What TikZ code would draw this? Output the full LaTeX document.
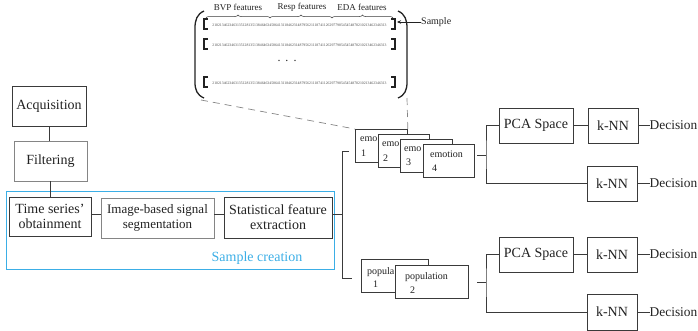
\documentclass[tikz,border=0pt]{standalone}
\usepackage{fontspec}
\setmainfont{Liberation Serif}
\usetikzlibrary{decorations.pathreplacing,arrows.meta}
\definecolor{ink}{HTML}{222222}
\definecolor{linec}{HTML}{3A3A3A}
\definecolor{lightline}{HTML}{858585}
\definecolor{digitc}{HTML}{4A4A4A}
\definecolor{sblue}{HTML}{3BAEE6}
\begin{document}
\begin{tikzpicture}[x=1pt,y=-1pt,
  box/.style={draw=linec,line width=0.8pt,fill=white,inner sep=0pt,align=center,text=ink,font=\fontsize{14}{15}\selectfont},
  lbox/.style={box,draw=lightline},
  ebox/.style={draw=linec,line width=0.8pt,fill=white,inner sep=0pt,anchor=north west},
  etext/.style={inner sep=0pt,anchor=west,text=ink,font=\fontsize{10}{11}\selectfont},
  conn/.style={draw=linec,line width=0.8pt},
  zoomline/.style={draw=lightline,line width=0.7pt,dash pattern=on 7pt off 5pt},
  paren/.style={draw=ink,line width=1.3pt},
  rowbr/.style={draw=ink,line width=1.4pt},
  digits/.style={inner sep=0pt,text=digitc,font=\fontsize{3.8}{4}\selectfont},
  flabel/.style={inner sep=0pt,text=ink,font=\fontsize{9}{10}\selectfont},
  dec/.style={inner sep=0pt,anchor=west,text=ink,font=\fontsize{13.4}{15}\selectfont}]
\useasboundingbox (0,0) rectangle (698,330);

% ---------- left pipeline ----------
\node[box,minimum width=74pt,minimum height=40pt] (acq) at (49,106) {Acquisition};
\node[lbox,minimum width=73pt,minimum height=40pt] (filt) at (50.5,161) {Filtering};
\draw[sblue,line width=0.9pt] (6,191) rectangle (334,269);
\node[box,minimum width=82pt,minimum height=39pt] (ts) at (50,216.5) {Time series'\\obtainment};
\node[lbox,minimum width=113pt,minimum height=40pt,font=\fontsize{13}{15}\selectfont] (img) at (157.5,218) {Image-based signal\\segmentation};
\node[box,minimum width=108pt,minimum height=41pt] (stat) at (278,217.5) {Statistical feature\\extraction};
\node[inner sep=0pt,text=sblue,font=\fontsize{14}{15}\selectfont] (sc) at (257,258) {Sample creation};

\draw[conn] (acq.south) -- (filt.north -| acq.south);
\draw[conn] (filt.south) -- (ts.north -| filt.south);
\draw[conn] (ts.east |- 0,214.5) -- (img.west |- 0,214.5);
\draw[conn] (img.east |- 0,214.5) -- (stat.west |- 0,214.5);

% ---------- branch to emotion / population ----------
\coordinate (bm) at (342,214.5);
\coordinate (bt) at (349,151);
\coordinate (bb) at (352,278);
\draw[conn] (stat.east |- bm) -- (bm);
\draw[conn] (bt) -- (342,151) -- (342,278) -- (bb);

% emotion boxes
\node[ebox,minimum width=52pt,minimum height=33pt] (e1) at (355,129) {};
\node[etext] at (360,139) {emo};
\node[etext] at (361,153) {1};
\node[ebox,minimum width=51pt,minimum height=33pt] (e2) at (378,134) {};
\node[etext] at (382,144) {emo};
\node[etext] at (383,158) {2};
\node[ebox,minimum width=52pt,minimum height=33pt] (e3) at (400,139) {};
\node[etext] at (404,149) {emo};
\node[etext] at (406,162) {3};
\node[ebox,minimum width=51pt,minimum height=33pt] (e4) at (423,144) {};
\node[etext] at (430,154) {emotion};
\node[etext] at (432,168) {4};

% population boxes
\node[ebox,minimum width=67pt,minimum height=33pt] (p1) at (361,259) {};
\node[etext] at (367,272) {popula};
\node[etext] at (373,284) {1};
\node[ebox,minimum width=73pt,minimum height=33pt] (p2) at (395,265) {};
\node[etext] at (405,277) {population};
\node[etext] at (410,290) {2};

% ---------- right groups ----------
\node[box,minimum width=74pt,minimum height=35pt] (pca1) at (536,125.5) {PCA Space};
\node[box,minimum width=50pt,minimum height=35pt] (knn1) at (613,125.5) {k-NN};
\node[box,minimum width=50pt,minimum height=35pt] (knn2) at (612,183.5) {k-NN};
\node[box,minimum width=74pt,minimum height=35pt] (pca2) at (536,254.5) {PCA Space};
\node[box,minimum width=50pt,minimum height=35pt] (knn3) at (612,254.5) {k-NN};
\node[box,minimum width=50pt,minimum height=36pt] (knn4) at (612,312) {k-NN};

\node[dec] (d1) at (649.5,125.5) {Decision};
\node[dec] (d2) at (649.5,183.5) {Decision};
\node[dec] (d3) at (649.5,254.5) {Decision};
\node[dec] (d4) at (649.5,312) {Decision};

\coordinate (u1) at (477,155);
\coordinate (u2) at (486,155);
\draw[conn] (u1) -- (u2);
\draw[conn] (pca1.west) -| (u2) |- (knn2.west);
\draw[conn] (pca1.east) -- (knn1.west);
\draw[conn] (knn1.east) -- (d1.west);
\draw[conn] (knn2.east) -- (d2.west);

\coordinate (l1) at (477,282);
\coordinate (l2) at (486,282);
\draw[conn] (l1) -- (l2);
\draw[conn] (pca2.west) -| (l2) |- (knn4.west);
\draw[conn] (pca2.east) -- (knn3.west);
\draw[conn] (knn3.east) -- (d3.west);
\draw[conn] (knn4.east) -- (d4.west);

% ---------- sample matrix ----------
\draw[paren] (204,11) .. controls (197,14) and (195,20) .. (195,28) -- (195,82) .. controls (195,90) and (197,95) .. (204,98);
\draw[paren] (398,11) .. controls (405,14) and (407,20) .. (407,28) -- (407,82) .. controls (407,90) and (405,95) .. (398,98);

\foreach \yy in {24,44,82}{
  \draw[rowbr] (208,\yy-5) -- (204,\yy-5) -- (204,\yy+5) -- (208,\yy+5);
  \draw[rowbr] (391,\yy-5) -- (395,\yy-5) -- (395,\yy+5) -- (391,\yy+5);
  \node[digits] at (299.5,\yy+1) {21021346234631351281351384646345864131184623148795621118741126297798545454878210213462346313};
}
\node[inner sep=0pt,text=ink,font=\fontsize{12}{12}\selectfont] (dots) at (287,61) {.\hspace{5pt}.\hspace{5pt}.};

\node[flabel] (bvp) at (238,7) {BVP features};
\node[flabel] (resp) at (302,7) {Resp features};
\node[flabel] (eda) at (362,7) {EDA features};
\draw[draw=linec,line width=0.5pt,decorate,decoration={brace,amplitude=3pt}] (206,18) -- (270,18);
\draw[draw=linec,line width=0.5pt,decorate,decoration={brace,amplitude=3pt}] (270,18) -- (332,18);
\draw[draw=linec,line width=0.5pt,decorate,decoration={brace,amplitude=3pt}] (332,18) -- (393,18);

\node[inner sep=0pt,anchor=west,text=ink,font=\fontsize{10}{11}\selectfont] (smp) at (421,22) {Sample};
\draw[draw=ink,line width=0.7pt,-{Stealth[length=4pt,width=3.5pt]}] (smp.west) -- (397,22);

% dashed zoom lines
\coordinate (pl) at (201,100);
\coordinate (pr) at (407,98);
\draw[zoomline] (pl) -- (e1.north west);
\draw[zoomline] (pr) -- (e1.north east);
\end{tikzpicture}
\end{document}
